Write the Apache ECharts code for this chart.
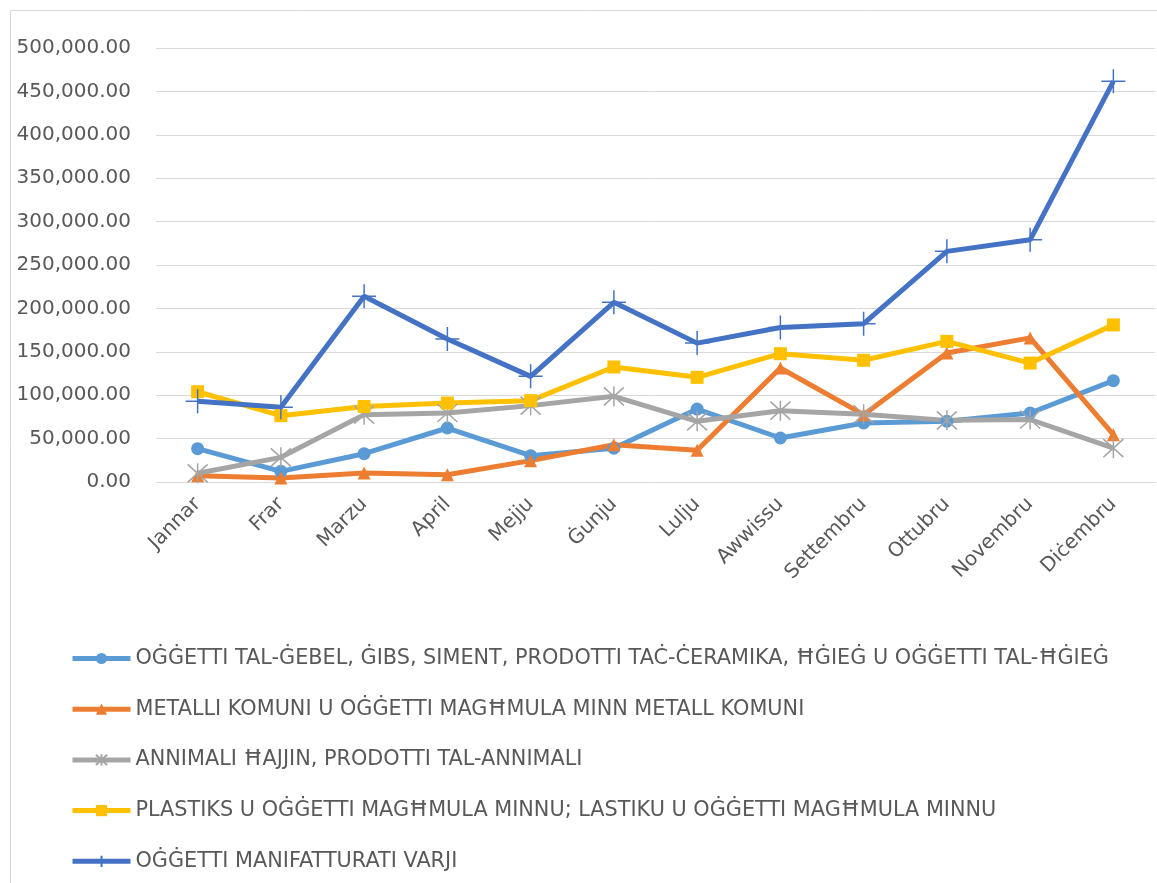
<!DOCTYPE html>
<html>
<head>
<meta charset="utf-8">
<script src="https://cdn.jsdelivr.net/npm/echarts@6/dist/echarts.min.js"></script>
<style>
html,body{margin:0;padding:0;background:#fff;}
#chart{width:1157px;height:883px;}
</style>
</head>
<body>
<div id="chart"></div>
<script>
// xhur
var months = ['Jannar','Frar','Marzu','April','Mejju','Ġunju','Lulju','Awwissu','Settembru','Ottubru','Novembru','Diċembru'];

// valuri (stima mill-grafika)
var gebel = [38400,12300,32600,62200,30300,39000,84000,50700,68000,70000,79500,116700];
var metalli = [7300,4600,10400,8400,24600,43000,36500,131300,77600,148600,166000,54500];
var annimali = [10000,28400,77600,79500,88000,98700,69900,82200,78000,71000,72000,39000];
var plastiks = [104000,76400,87000,91000,93700,132500,120600,147800,140200,162000,137000,181000];
var manifatturati = [92900,86000,213900,164700,121700,207000,160000,178000,182400,265700,279000,461600];

var yTicks = [0,50000,100000,150000,200000,250000,300000,350000,400000,450000,500000];

var names = [
	'OĠĠETTI TAL-ĠEBEL, ĠIBS, SIMENT, PRODOTTI TAĊ-ĊERAMIKA, ĦĠIEĠ U OĠĠETTI TAL-ĦĠIEĠ',
	'METALLI KOMUNI U OĠĠETTI MAGĦMULA MINN METALL KOMUNI',
	'ANNIMALI ĦAJJIN, PRODOTTI TAL-ANNIMALI',
	'PLASTIKS U OĠĠETTI MAGĦMULA MINNU; LASTIKU U OĠĠETTI MAGĦMULA MINNU',
	'OĠĠETTI MANIFATTURATI VARJI'
];

var font = '"DejaVu Sans", sans-serif';

function fmt(v){
	return v.toLocaleString('en-US',{minimumFractionDigits:2,maximumFractionDigits:2});
}

function serie(name,data,color,symbol,size,hollow){
	return {
		name:name,
		type:'line',
		data:data,
		symbol:symbol,
		symbolSize:size,
		showAllSymbol:true,
		lineStyle:{color:color,width:5},
		itemStyle: hollow ? {color:'rgba(0,0,0,0)',borderColor:color,borderWidth:1.5} : {color:color,borderWidth:0},
		emphasis:{disabled:true},
		z: 2
	};
}

var plus = 'path://M10,0L10,20M0,10L20,10';
var star = 'path://M1,1L19,19M19,1L1,19M10,0L10,20';

var myChart = echarts.init(document.getElementById('chart'));
var option = {
	backgroundColor:'#fff',
	animation:false,
	graphic:[{
		type:'rect',
		shape:{x:10.5,y:10.5,width:1200,height:900},
		style:{fill:'none',stroke:'#d9d9d9',lineWidth:1},
		silent:true
	}],
	grid:{left:156,right:2,top:48,bottom:401},
	xAxis:{
		type:'category',
		data:months,
		boundaryGap:true,
		axisLine:{show:true,lineStyle:{color:'#d9d9d9',width:1}},
		axisTick:{show:false},
		axisLabel:{rotate:45,margin:19,fontSize:20,color:'#595959',fontFamily:font,interval:0}
	},
	yAxis:{
		type:'value',
		min:yTicks[0],
		max:yTicks[yTicks.length-1],
		interval:yTicks[1]-yTicks[0],
		axisLine:{show:false},
		axisTick:{show:false},
		splitLine:{lineStyle:{color:'#d9d9d9',width:1}},
		axisLabel:{margin:25,fontSize:20,color:'#595959',fontFamily:font,formatter:fmt}
	},
	legend:{
		orient:'vertical',
		left:70,
		top:648,
		padding:0,
		itemWidth:58,
		itemHeight:14,
		itemGap:29.7,
		lineStyle:{width:5},
		textStyle:{fontSize:20.8,color:'#595959',fontFamily:font,lineHeight:20},
		data:names
	},
	series:[
		serie(names[0],gebel,'#5B9BD5','circle',13,false),
		serie(names[1],metalli,'#ED7D31','triangle',13,false),
		serie(names[2],annimali,'#A5A5A5',star,20,true),
		serie(names[3],plastiks,'#FFC000','rect',13,false),
		serie(names[4],manifatturati,'#4472C4',plus,24,true)
	]
};
myChart.setOption(option);
</script>
</body>
</html>
